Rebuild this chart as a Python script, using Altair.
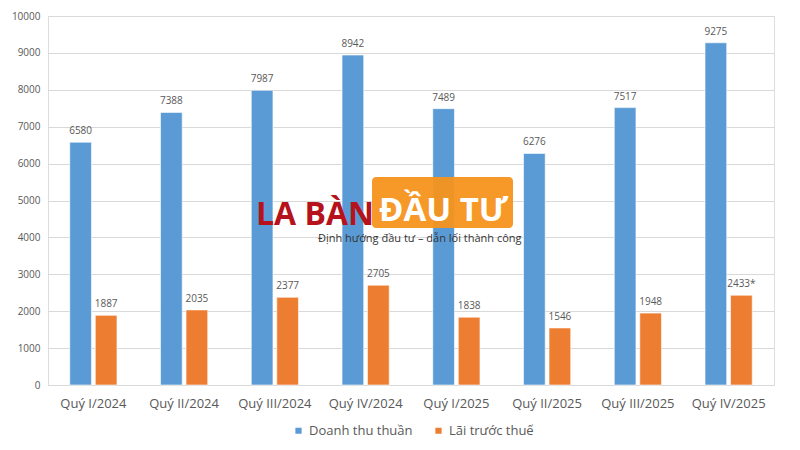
import altair as alt
import pandas as pd

quarters = ["Quý I/2024", "Quý II/2024", "Quý III/2024", "Quý IV/2024",
            "Quý I/2025", "Quý II/2025", "Quý III/2025", "Quý IV/2025"]
series_names = ["Doanh thu thuần", "Lãi  trước thuế"]
revenue = [6580, 7388, 7987, 8942, 7489, 6276, 7517, 9275]
profit = [1887, 2035, 2377, 2705, 1838, 1546, 1948, 2433]
profit_labels = ["1887", "2035", "2377", "2705", "1838", "1546", "1948", "2433*"]
colors = ["#5B9BD5", "#ED7D31"]

rows = []
for q, r, p, pl in zip(quarters, revenue, profit, profit_labels):
    rows.append({"q": q, "s": series_names[0], "v": r, "lab": str(r)})
    rows.append({"q": q, "s": series_names[1], "v": p, "lab": pl})
df = pd.DataFrame(rows)

x = alt.X("q:N", sort=quarters, title=None,
          scale=alt.Scale(paddingInner=0.48, paddingOuter=0.24),
          axis=alt.Axis(labelAngle=0, labelFontSize=13, labelColor="#595959",
                        labelPadding=12, ticks=False, domainColor="#D9D9D9",
                        labelFont="Open Sans"))
xo = alt.XOffset("s:N", sort=series_names, scale=alt.Scale(paddingInner=0.15))
y = alt.Y("v:Q", title=None, scale=alt.Scale(domain=[0, 10000]),
          axis=alt.Axis(values=list(range(0, 10001, 1000)), format="d", labelFontSize=10,
                        labelColor="#595959", domain=False, ticks=False,
                        gridColor="#D9D9D9", labelPadding=8, labelFont="Open Sans"))

bars = alt.Chart(df).mark_bar(stroke="white", strokeWidth=0.6).encode(
    x=x, xOffset=xo, y=y,
    color=alt.Color("s:N", sort=series_names,
                    scale=alt.Scale(domain=series_names, range=colors),
                    legend=alt.Legend(title=None, orient="none", direction="horizontal",
                                      legendX=244, legendY=408,
                                      symbolType="square", symbolSize=60,
                                      labelFontSize=13, labelColor="#595959",
                                      columnPadding=18, labelFont="Open Sans")),
)
labels = alt.Chart(df).mark_text(baseline="bottom", dy=-6, fontSize=10,
                                 color="#595959", font="Open Sans").encode(
    x=x, xOffset=xo, y=y, text="lab:N")

# watermark logo
logo_rect = alt.Chart(pd.DataFrame({"a": [0]})).mark_rect(
    color="#F7931E", cornerRadius=4, opacity=0.95).encode(
    x=alt.value(324), x2=alt.value(465), y=alt.value(161), y2=alt.value(212))
logo_left = alt.Chart(pd.DataFrame({"t": ["LA BÀN"]})).mark_text(
    align="left", baseline="alphabetic", fontSize=32, fontWeight="bold",
    color="#B5121B", font="Open Sans").encode(
    x=alt.value(208), y=alt.value(209), text="t:N")
logo_right = alt.Chart(pd.DataFrame({"t": ["ĐẦU TƯ"]})).mark_text(
    align="left", baseline="alphabetic", fontSize=33, fontWeight="bold",
    color="white", font="Open Sans").encode(
    x=alt.value(331), y=alt.value(205), text="t:N")
tagline = alt.Chart(pd.DataFrame({"t": ["Định hướng đầu tư – dẫn lối thành công"]})).mark_text(
    align="left", baseline="middle", fontSize=11, color="#333333", font="Open Sans").encode(
    x=alt.value(270), y=alt.value(223), text="t:N")

chart = alt.layer(bars, labels, logo_rect, logo_left, logo_right, tagline).properties(
    width=726, height=369,
    autosize=alt.AutoSizeParams(type="none"),
    padding={"left": 40, "top": 8, "right": 18, "bottom": 60},
).configure_view(stroke=None).configure(background="white")

chart.save("out.html", embed_options={"renderer": "svg", "actions": False})
